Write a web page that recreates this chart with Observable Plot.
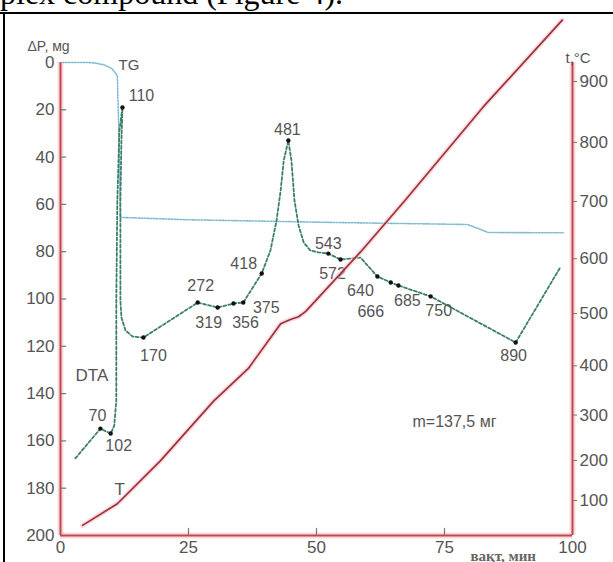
<!DOCTYPE html>
<html>
<head>
<meta charset="utf-8">
<script src="https://cdn.jsdelivr.net/npm/d3@7"></script>
<script src="https://cdn.jsdelivr.net/npm/@observablehq/plot@0.6"></script>
<style>
  html, body { margin: 0; padding: 0; background: #fff; }
  #wrap { position: relative; width: 613px; height: 562px; overflow: hidden; background: #fff; }
  #doc { position: absolute; left: 0px; top: -23px; font-family: "Liberation Serif", "Times New Roman", serif; font-size: 32px; line-height: 1; white-space: nowrap; color: #000; }
  #frameTop { position: absolute; left: 0; top: 12px; width: 613px; height: 1.5px; background: #000; }
  #frameLeft { position: absolute; left: 3px; top: 12px; width: 2px; height: 560px; background: #000; }
  #wrap svg { position: absolute; left: 0; top: 0; }
</style>
</head>
<body>
<div id="wrap">
  <div id="doc">plex compound (Figure 4).</div>
  <div id="frameTop"></div>
  <div id="frameLeft"></div>
</div>
<script>
// ---- data ----
// TG (mass loss, mg) vs time (min)
const tgTime = [0.4, 5.3, 7, 8.5, 10, 11.1, 11.4, 11.7, 25, 55, 79.5, 83.6, 98.2];
const tgMass = [0, 0, 0.3, 1, 2.5, 5.5, 30, 65.5, 66.5, 67.7, 68.5, 71.9, 72];

// DTA curve (drawn on the left scale) vs time
const dtaTime  = [2.9, 7.8, 9.8, 10.5, 10.9, 10.9, 11.1, 11.5, 12.1, 11.9, 11.7, 11.7, 11.9, 12.7, 14.1, 16.2, 26.8, 30.7, 33.8, 35.7, 39.3, 41.0, 42.2, 43.0, 43.6, 44.5, 45.1, 45.7, 46.5, 47.5, 48.8, 50.4, 52.3, 54.7, 58.6, 61.9, 64.5, 66.0, 72.3, 88.9, 97.7];
const dtaValue = [167.4, 154.8, 156.9, 153.5, 142.9, 100.6, 58.4, 28.8, 19.0, 33, 58.4, 100.6, 107.8, 113.3, 115.9, 116.3, 101.5, 103.6, 101.9, 101.5, 89.2, 79.5, 66.8, 54.1, 41.4, 33.0, 41.4, 58.4, 68.9, 76.1, 79.5, 80.3, 80.8, 83.3, 82.5, 90.5, 93.0, 94.3, 98.9, 118.4, 86.3];

// Marked DTA points and their temperatures (°C)
const peakTemp  = [70, 102, 110, 170, 272, 319, 356, 375, 418, 481, 543, 572, 640, 666, 685, 750, 890];
const peakTime  = [7.8, 9.8, 12.1, 16.2, 26.8, 30.7, 33.8, 35.7, 39.3, 44.5, 52.3, 54.7, 61.9, 64.5, 66.0, 72.3, 88.9];
const peakValue = [154.8, 156.9, 19.0, 116.3, 101.5, 103.6, 101.9, 101.5, 89.2, 33.0, 80.8, 83.3, 90.5, 93.0, 94.3, 98.9, 118.4];

// T curve: temperature (°C) vs time
const tTime = [4.3, 11.1, 19.5, 29.9, 36.7, 43.0, 44.9, 46.5, 47.9, 58.6, 67.4, 82.6, 98.0];
const tTemp = [22, 91, 199, 329, 395, 481, 489, 494, 504, 612, 703, 859, 998];

// axis ticks
const leftTicks = [0, 20, 40, 60, 80, 100, 120, 140, 160, 180, 200];
const leftMinorTicks = [20, 40, 60, 80, 100, 120, 140, 160, 180];
const bottomTicks = [0, 25, 50, 75, 100];
const bottomInnerTicks = [25, 50, 75];
const rightTicks = [100, 200, 300, 400, 500, 600, 700, 800, 900];

// ---- layout / style ----
const W = 613, H = 562;
const M = {top: 62, right: 41, bottom: 27, left: 60};
const RED = "#c2474f";
const GLOW = "#f3c3c6";
const LABEL = "#555";
const FONT = "Liberation Sans, Arial, sans-serif";
const labelOffsets = {
  70: [-3, -13], 102: [8, 12], 110: [19, -12], 170: [10, 18],
  272: [3, -17], 319: [-9, 15], 356: [12, 19], 375: [23, 5],
  418: [-18, -10], 481: [-1, -11], 543: [0, -10], 572: [-8, 14],
  640: [-17, 14], 666: [-20, 29], 685: [9, 15], 750: [8, 14], 890: [-2, 13]
};

const tg = tgTime.map((t, i) => ({t, v: tgMass[i]}));
const dta = dtaTime.map((t, i) => ({t, v: dtaValue[i]}));
const peaks = peakTime.map((t, i) => ({t, v: peakValue[i], label: String(peakTemp[i])}));
const tcurve = tTime.map((t, i) => ({t, v: tTemp[i]}));

const txt = {fontFamily: FONT, fill: LABEL};

const plot1 = Plot.plot({
  width: W, height: H,
  marginTop: M.top, marginRight: M.right, marginBottom: M.bottom, marginLeft: M.left,
  style: {background: "transparent", fontFamily: FONT, overflow: "visible"},
  x: {domain: [0, 100], axis: null},
  y: {domain: [0, 200], reverse: true, axis: null},
  marks: [
    Plot.ruleX([0, 100], {y1: 0, y2: 200, stroke: GLOW, strokeWidth: 6, strokeOpacity: 0.6}),
    Plot.ruleY([200], {x1: 0, x2: 100, stroke: GLOW, strokeWidth: 6, strokeOpacity: 0.6}),
    Plot.ruleX([0, 100], {y1: 0, y2: 200, stroke: RED, strokeWidth: 2}),
    Plot.ruleY([200], {x1: 0, x2: 100, stroke: RED, strokeWidth: 2}),
    Plot.ruleY(leftMinorTicks, {x1: 0, x2: 1.2, stroke: "#777", strokeWidth: 1.2}),
    Plot.ruleX(bottomInnerTicks, {y1: 200, y2: 197, stroke: "#777", strokeWidth: 1.2}),
    Plot.axisY({ticks: leftTicks, tickSize: 0, tickPadding: 6, fontSize: 17, ...txt, label: null}),
    Plot.axisX({ticks: bottomTicks, tickSize: 0, tickPadding: 5, fontSize: 17, ...txt, label: null}),
    Plot.line(tg, {x: "t", y: "v", stroke: "#7fbcd2", strokeWidth: 1.6, strokeDasharray: "1.5,1.5"}),
    Plot.line(dta, {x: "t", y: "v", stroke: "#3b7f65", strokeWidth: 1.8, strokeDasharray: "3,2.2"}),
    Plot.dot(peaks, {x: "t", y: "v", r: 2.2, fill: "#111", stroke: null}),
    ...peaks.map(p => Plot.text([p], {
      x: "t", y: "v", text: "label", fontSize: 16, ...txt,
      dx: labelOffsets[p.label][0], dy: labelOffsets[p.label][1]
    })),
    Plot.text(["ΔP, мg"], {frameAnchor: "top-left", dx: -33, dy: -21, textAnchor: "start", fontSize: 14, ...txt}),
    Plot.text(["TG"], {frameAnchor: "top-left", dx: 58, dy: -3, textAnchor: "start", fontSize: 15, ...txt}),
    Plot.text(["DTA"], {frameAnchor: "top-left", dx: 15, dy: 306, textAnchor: "start", fontSize: 17, ...txt}),
    Plot.text(["T"], {frameAnchor: "top-left", dx: 54, dy: 420, textAnchor: "start", fontSize: 17, ...txt}),
    Plot.text(["t,°C"], {frameAnchor: "top-right", dx: -7, dy: -10, textAnchor: "start", fontSize: 15, ...txt}),
    Plot.text(["m=137,5 мг"], {frameAnchor: "top-left", dx: 352, dy: 353, textAnchor: "start", fontSize: 16, ...txt}),
    Plot.text(["вақт, мин"], {frameAnchor: "bottom-left", dx: 410, dy: 25, textAnchor: "start", fontSize: 15, fontWeight: "bold", fontFamily: "Liberation Serif, serif", fill: "#666"})
  ]
});

// The derivatograph temperature scale is slightly non-linear (power-like)
const plot2 = Plot.plot({
  width: W, height: H,
  marginTop: M.top, marginRight: M.right, marginBottom: M.bottom, marginLeft: M.left,
  style: {background: "transparent", fontFamily: FONT, overflow: "visible"},
  x: {domain: [0, 100], axis: null},
  y: {type: "pow", exponent: 1.24, domain: [0, 1000], range: [529.4, 18.4], axis: null},
  marks: [
    Plot.axisY({anchor: "right", ticks: rightTicks, tickSize: 4, tickPadding: 3, fontSize: 17, stroke: "#777", fill: LABEL, fontFamily: FONT, label: null}),
    Plot.line(tcurve, {x: "t", y: "v", stroke: GLOW, strokeWidth: 5, strokeOpacity: 0.55}),
    Plot.line(tcurve, {x: "t", y: "v", stroke: "#9e2e3c", strokeWidth: 1.7})
  ]
});

const wrap = document.getElementById("wrap");
wrap.appendChild(plot1);
wrap.appendChild(plot2);
</script>
</body>
</html>
